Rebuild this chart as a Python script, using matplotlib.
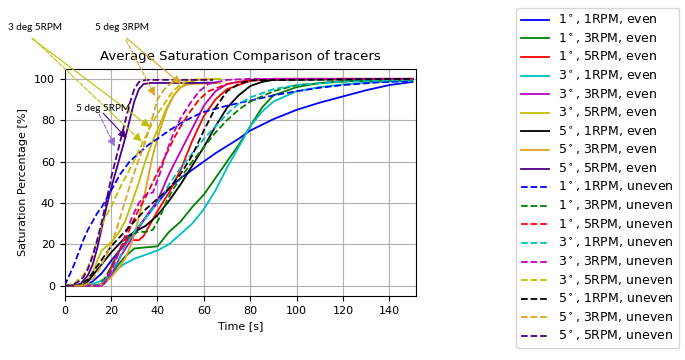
'''
Average saturation of tracers, even vs uneven filling
'''
import numpy as np
from matplotlib import pyplot as plt

# tilt angle [deg], rotation speed [RPM] for each case
angles = [1, 1, 1, 3, 3, 3, 5, 5, 5]
rpms = [1, 3, 5, 1, 3, 5, 1, 3, 5]
colors = ['b', 'g', 'r', 'c', 'm', 'y', 'k', 'goldenrod', 'indigo']

# even cases (solid lines): time [s] and saturation [%]
t_even = [
	[0, 8, 12, 16, 20, 25, 30, 35, 40, 45, 50, 55, 60, 65, 70, 75, 80, 90, 100, 110, 120, 130, 140, 150],
	[0, 15, 17, 20, 23, 26, 30, 35, 40, 45, 50, 55, 60, 65, 70, 75, 80, 85, 90, 100, 110, 120, 135, 150],
	[0, 15, 18, 20, 23, 26, 28, 30, 32, 34, 36, 38, 40, 45, 50, 55, 60, 65, 70, 80, 90, 150],
	[0, 10, 15, 20, 25, 30, 35, 40, 45, 50, 55, 60, 65, 70, 75, 80, 85, 90, 100, 110, 120, 135, 150],
	[0, 16, 18, 20, 24, 28, 32, 36, 40, 45, 50, 55, 60, 65, 70, 80, 90, 150],
	[0, 6, 8, 10, 12, 14, 16, 18, 20, 23, 26, 29, 32, 35, 38, 41, 44, 47, 50, 53, 57, 67],
	[0, 8, 10, 15, 20, 25, 30, 35, 40, 45, 50, 55, 60, 65, 70, 75, 80, 85, 90, 150],
	[0, 15, 18, 20, 23, 26, 29, 32, 35, 38, 41, 44, 47, 50, 54, 60, 67],
	[0, 4, 7, 10, 12, 14, 16, 18, 20, 22, 24, 26, 28, 30, 32, 34, 37, 45, 55, 65],
]
s_even = [
	[0, 0, 2, 6, 12, 19, 26, 33, 40, 47, 52, 56, 60, 64, 67.5, 71, 75, 80.5, 85, 88.5, 91.5, 94.5, 97, 98.5],
	[0, 0, 1, 5, 10, 14, 18, 18.5, 19, 26, 31, 38, 44, 52, 60, 68, 77, 86, 92, 96, 98, 98.8, 99.3, 99.5],
	[0, 0, 3, 9, 16, 20, 23, 22, 22, 24, 28, 32, 36, 45, 56, 70, 82, 90, 95, 99, 100, 100],
	[0, 0, 2, 5, 10, 13, 15, 17, 20, 25, 30, 37, 46, 57, 67, 77, 84, 89, 94, 96, 97.3, 98.5, 99],
	[0, 0, 2, 5, 14, 21, 28, 35, 41, 54, 65, 76, 87, 94, 97.5, 99.5, 100, 100],
	[0, 0, 1, 3, 6, 12, 17, 19, 21, 25, 31, 40, 50, 61, 70, 78, 86, 92, 96, 98, 99.5, 100],
	[0, 0, 2, 9, 16, 22, 26, 29, 34, 41, 49, 58, 67, 77, 86, 92, 96.5, 98.5, 99.5, 100],
	[0, 0, 2, 4, 8, 13, 21, 33, 47, 63, 75, 85, 92, 96, 97.5, 97.8, 98],
	[0, 0, 1, 5, 10, 18, 28, 38, 47, 55, 63, 71, 80, 89, 95, 97.5, 98, 98, 98, 98.2],
]

# uneven cases (dashed lines)
t_uneven = [
	[0, 2, 4, 6, 8, 10, 12, 14, 16, 18, 20, 24, 28, 32, 36, 40, 45, 50, 55, 60, 70, 80, 90, 100, 110, 120, 135, 150],
	[0, 14, 17, 20, 23, 26, 29, 32, 35, 38, 41, 44, 47, 50, 55, 60, 65, 70, 75, 80, 90, 100, 120, 150],
	[0, 15, 17, 20, 23, 26, 29, 32, 35, 38, 41, 44, 47, 50, 54, 58, 62, 70, 80, 90, 150],
	[0, 14, 17, 20, 23, 26, 30, 35, 40, 45, 50, 55, 60, 65, 70, 75, 80, 90, 100, 120, 150],
	[0, 15, 17, 20, 23, 26, 29, 32, 35, 38, 41, 44, 47, 50, 54, 58, 62, 70, 80, 150],
	[0, 4, 8, 10, 12, 14, 16, 18, 20, 22, 25, 28, 31, 34, 37, 40, 43, 46, 49, 52, 56, 67],
	[0, 6, 10, 15, 20, 25, 30, 35, 40, 45, 50, 55, 60, 65, 70, 75, 80, 150],
	[0, 8, 10, 12, 15, 18, 20, 22, 25, 28, 31, 34, 37, 40, 43, 46, 50, 55, 62],
	[0, 3, 6, 8, 10, 12, 14, 16, 18, 20, 22, 24, 26, 28, 30, 32, 35, 45, 55, 64],
]
s_uneven = [
	[0, 5, 10, 16, 22, 27, 31, 35, 38, 42, 46, 54, 60, 64, 68, 71, 75, 78.5, 81.5, 84, 87, 89.5, 92, 94, 95.7, 97, 98.3, 99],
	[0, 0, 3, 9, 16, 22, 25, 26, 26, 27, 33, 41, 47, 52, 60, 67, 74, 80, 85, 89, 94, 97, 98.7, 99.5],
	[0, 0, 2, 8, 15, 22, 30, 37, 43, 50, 57, 64, 71, 77, 84, 90, 94, 97.5, 99.5, 100, 100],
	[0, 0, 2, 6, 12, 19, 26, 33, 40, 49, 57, 64, 71, 77, 83, 88, 91, 95, 97, 98.7, 99.5],
	[0, 0, 1, 7, 15, 24, 33, 40, 44, 45, 54, 65, 74, 81, 88, 94, 97.5, 99.5, 100, 100],
	[0, 1, 5, 9, 15, 22, 29, 34, 38, 43, 50, 56, 63, 70, 77, 83, 88, 93, 96.5, 98.5, 99.5, 100],
	[0, 0, 3, 11, 19, 25, 31, 37, 42, 47, 54, 63, 75, 86, 94, 97.5, 99.3, 100],
	[0, 0, 1, 3, 8, 15, 20, 26, 37, 48, 58, 67, 78, 90, 95, 98, 99.3, 99.6, 99.8],
	[0, 0, 2, 4, 8, 14, 22, 31, 41, 52, 61, 70, 79, 88, 95, 98.5, 99.5, 99.5, 99.5, 99.5],
]

fig = plt.figure(figsize=(6.85, 3.6), dpi=100)
ax = fig.add_axes([64.7/685, 1-296/360, (416-64.7)/685, (296-68.5)/360])

handles = []
for i in range(len(angles)):
	h, = ax.plot(t_even[i], s_even[i], color=colors[i], lw=1.3,
		label=f'{angles[i]}$^\\circ$, {rpms[i]}RPM, even')
	handles.append(h)
for i in range(len(angles)):
	h, = ax.plot(t_uneven[i], s_uneven[i], color=colors[i], lw=1.3, ls='--',
		label=f'{angles[i]}$^\\circ$, {rpms[i]}RPM, uneven')
	handles.append(h)

ax.set_xlim(0, 151.5)
ax.set_ylim(-5, 105)
ax.grid(True)
ax.tick_params(labelsize=8)
ax.set_xlabel('Time [s]', fontsize=8)
ax.set_ylabel('Saturation Percentage [%]', fontsize=8)
ax.set_title('Average Saturation Comparison of tracers', fontsize=9.5)

fig.legend(handles=handles, loc='upper left', bbox_to_anchor=(516/685, 1-8/360),
	fontsize=9, labelspacing=0.36, borderaxespad=0, handlelength=2.2)

# hand drawn notes on top of the plot (pixel positions from top left)
H = 360
notes = [('3 deg 5RPM', 35.5, 27), ('5 deg 3RPM', 122, 27), ('5 deg 5RPM', 103, 108)]
for txt, x, y in notes:
	fig.text(x/685, 1-y/H, txt, ha='center', va='center', fontsize=7.2, family='Lato')

arrows = [
	((31.7, 38.3), (150, 127), 'y', '-'),
	((33, 38.5), (141.7, 141.7), 'y', '--'),
	((126.7, 38.3), (181, 84), 'goldenrod', '-'),
	((126, 40), (155, 96), 'goldenrod', '--'),
	((103.3, 113.3), (126.7, 138.3), 'indigo', '-'),
	((99, 114), (115, 146.7), 'mediumpurple', '--'),
]
for start, end, c, ls in arrows:
	ax.annotate('', xy=(end[0], H-end[1]), xycoords='figure pixels',
		xytext=(start[0], H-start[1]), textcoords='figure pixels',
		arrowprops=dict(arrowstyle='-|>,head_length=0.5,head_width=0.25', color=c,
			lw=0.8, ls=ls, shrinkA=0, shrinkB=0),
		annotation_clip=False, zorder=10)

plt.savefig('out.png', dpi=100)
